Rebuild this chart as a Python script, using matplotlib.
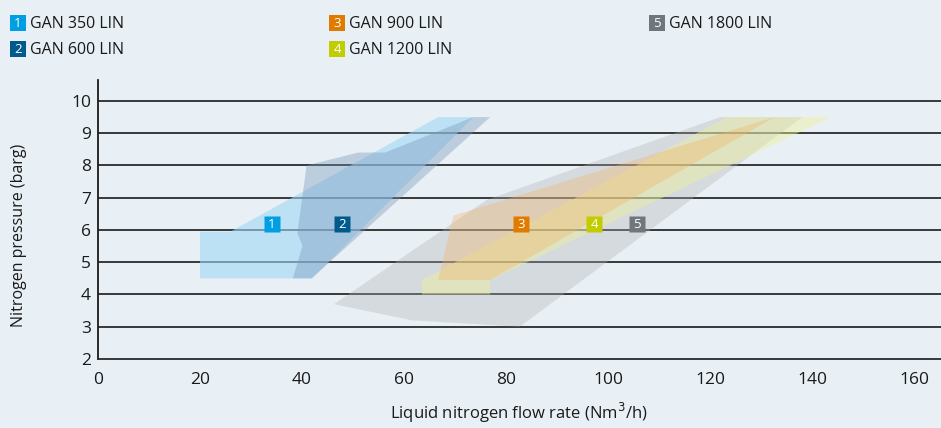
import matplotlib.pyplot as plt
from matplotlib.patches import Polygon, Rectangle

# operating ranges (flow Nm3/h, pressure barg)
gan350_flow = [20, 20, 26, 66.7, 73.6, 42]
gan350_pres = [4.5, 5.95, 5.95, 9.5, 9.5, 4.5]
gan600_flow = [38.2, 40.1, 39.1, 40.9, 51, 56.3, 73.6, 76.9, 41.9]
gan600_pres = [4.5, 5.5, 5.9, 8.0, 8.4, 8.4, 9.5, 9.5, 4.5]
gan900_flow = [69.7, 66.7, 76.9, 132.7]
gan900_pres = [6.45, 4.45, 4.45, 9.5]
gan1200_flow = [63.5, 63.5, 76.9, 76.9, 143.8, 123.3]
gan1200_pres = [4.45, 4.0, 4.0, 4.45, 9.5, 9.5]
gan1800_flow = [46.3, 76.2, 122, 138.1, 82.7, 61.5]
gan1800_pres = [3.7, 6.93, 9.5, 9.5, 3.0, 3.2]

labels = ["GAN 350 LIN", "GAN 600 LIN", "GAN 900 LIN", "GAN 1200 LIN", "GAN 1800 LIN"]
badge_x = [34.1, 47.8, 82.9, 97.3, 105.7]
badge_y = 6.2
badge_colors = ["#009fe3", "#005a8c", "#e07b00", "#c2cd00", "#6f767c"]

BG = "#e8f0f6"
FONT = "Open Sans"

fig = plt.figure(figsize=(9.41, 4.28), dpi=100, facecolor=BG)
ax = fig.add_axes([98 / 941, 69 / 428, 843 / 941, 279 / 428], facecolor=BG)
ax.set_xlim(0, 165.3)
ax.set_ylim(2, 10.65)

# gridlines
for v in range(3, 11):
    ax.axhline(v, color="#2a2a2a", lw=1.3, zorder=1)

# areas, drawn back to front
areas = [
    (gan1800_flow, gan1800_pres, "#b0b0b0", 0.34),
    (gan1200_flow, gan1200_pres, "#eef09a", 0.45),
    (gan900_flow, gan900_pres, "#f7b060", 0.33),
    (gan350_flow, gan350_pres, "#9fd8f4", 0.6),
    (gan600_flow, gan600_pres, "#7594b8", 0.38),
]
for fx, py, col, a in areas:
    ax.add_patch(Polygon(list(zip(fx, py)), closed=True, facecolor=col,
                         edgecolor="none", alpha=a, zorder=2))

# numbered badges
for i, (bx, col) in enumerate(zip(badge_x, badge_colors)):
    ax.plot(bx, badge_y, marker="s", ms=11.5, color=col, mec="none", zorder=4)
    ax.text(bx, badge_y - 0.02, str(i + 1), color="white", fontsize=9.5,
            ha="center", va="center", zorder=5, family=FONT)

for s in ["top", "right"]:
    ax.spines[s].set_visible(False)
ax.spines["left"].set_color("#1a1a1a")
ax.spines["left"].set_linewidth(1.3)
ax.spines["bottom"].set_color("#2a2a2a")
ax.spines["bottom"].set_linewidth(1.3)

ax.set_xticks(range(0, 161, 20))
ax.set_yticks(range(2, 11))
ax.tick_params(length=0, labelsize=12.5, colors="#1a1a1a")
ax.tick_params(axis="x", pad=9)
ax.tick_params(axis="y", pad=5)
for t in ax.get_xticklabels() + ax.get_yticklabels():
    t.set_family(FONT)

fig.text(519 / 941, 1 - 413 / 428, "Liquid nitrogen flow rate (Nm$^3$/h)",
         ha="center", va="center", fontsize=12, color="#1a1a1a", family=FONT)
fig.text(19 / 941, 1 - 235 / 428, "Nitrogen pressure (barg)", rotation=90,
         ha="center", va="center", fontsize=11.5, color="#1a1a1a", family=FONT)

# legend at the top
leg_pos = [(10, 15), (10, 41), (329, 15), (329, 41), (649, 15)]
for (lx, ly), lab, col, n in zip(leg_pos, labels, badge_colors, range(1, 6)):
    fig.patches.append(Rectangle((lx / 941, 1 - (ly + 16) / 428), 16 / 941, 16 / 428,
                                 transform=fig.transFigure, facecolor=col, edgecolor="none"))
    fig.text((lx + 8) / 941, 1 - (ly + 8.5) / 428, str(n), color="white", fontsize=9.5,
             ha="center", va="center", family=FONT)
    fig.text((lx + 20) / 941, 1 - (ly + 8.5) / 428, lab, color="#1a1a1a", fontsize=11.5,
             ha="left", va="center", family=FONT)

fig.savefig("out.png", dpi=100, facecolor=BG)
